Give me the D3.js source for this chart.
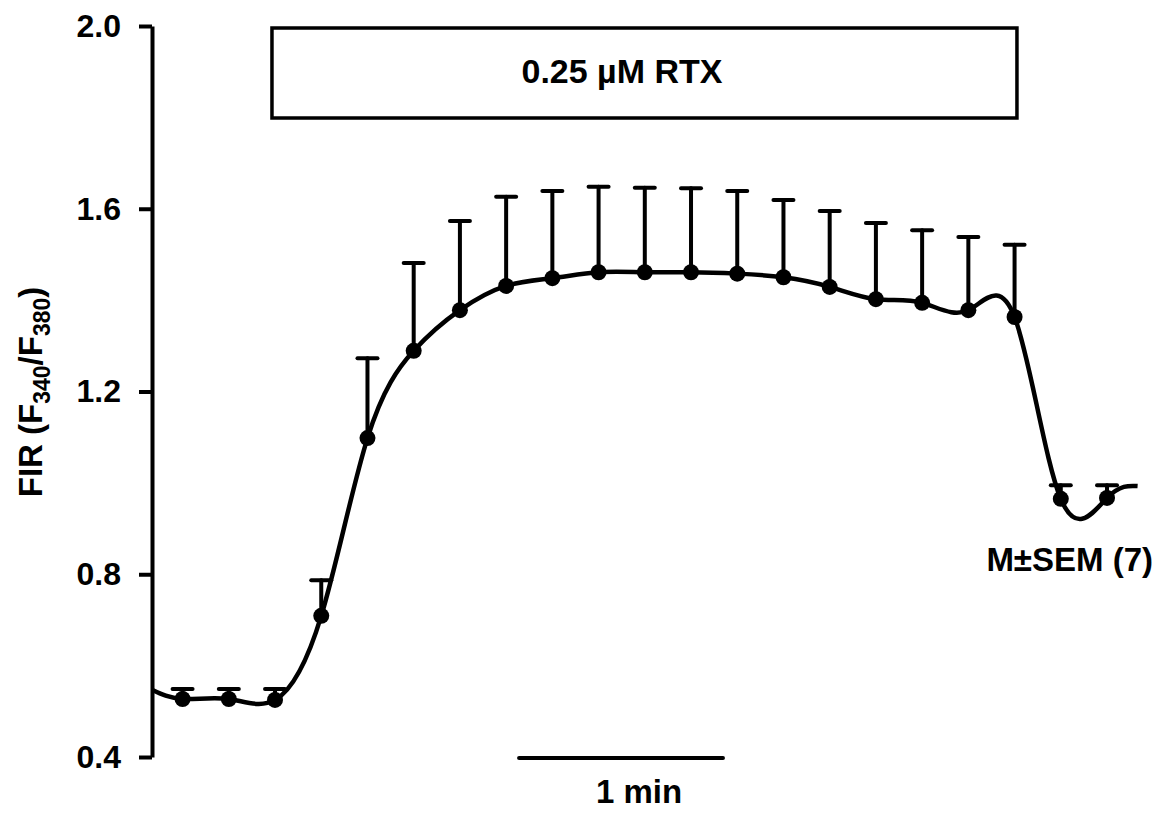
<!DOCTYPE html>
<html>
<head>
<meta charset="utf-8">
<script src="https://cdn.jsdelivr.net/npm/d3@7"></script>
<style>
  body { margin: 0; background: #fff; }
  svg text { font-family: Arial, "Liberation Sans", Helvetica, sans-serif; font-weight: bold; fill: #000; }
</style>
</head>
<body>
<script>
// sample times (s) and mean FIR with SEM
const times = [0, 13.6, 27.2, 40.8, 54.4, 68.0, 81.6, 95.2, 108.8, 122.4, 136.0,
               149.6, 163.2, 176.8, 190.4, 204.0, 217.6, 231.2, 244.8, 258.4, 272.0];
const means = [0.527, 0.527, 0.525, 0.709, 1.098, 1.289, 1.378, 1.431, 1.448, 1.461, 1.461,
               1.461, 1.458, 1.450, 1.429, 1.402, 1.394, 1.378, 1.363, 0.965, 0.967];
const sems  = [0.022, 0.022, 0.024, 0.078, 0.175, 0.192, 0.195, 0.195, 0.191, 0.187, 0.185,
               0.184, 0.181, 0.169, 0.166, 0.167, 0.159, 0.160, 0.158, 0.030, 0.028];
// ends of the fitted trace
const traceStart = [-9, 0.547];
const traceEnd = [281, 0.993];
const yTicks = [0.4, 0.8, 1.2, 1.6, 2.0];
const rtxSpan = [26.3, 245.5];
const scaleBar = [99, 159];

const width = 1157, height = 814;

const svg = d3.select("body")
    .append("svg")
    .attr("width", width)
    .attr("height", height);

const x = d3.scaleLinear().domain([-9, 282]).range([152, 1141]);
const y = d3.scaleLinear().domain([0.4, 2.0]).range([757, 26]);

// y axis
const yAxis = svg.append("g")
    .attr("transform", "translate(152,0)")
    .call(d3.axisLeft(y).tickValues(yTicks).tickFormat(d3.format(".1f"))
        .tickSize(13).tickPadding(18).tickSizeOuter(0));
yAxis.select(".domain").attr("stroke", "#000").attr("stroke-width", 4);
yAxis.selectAll(".tick line").attr("stroke", "#000").attr("stroke-width", 4);
yAxis.selectAll(".tick text")
    .attr("font-size", "32px")
    .attr("font-family", null)
    .attr("fill", "#000");

// y label
const yl = svg.append("text")
    .attr("transform", "translate(42,392) rotate(-90)")
    .attr("text-anchor", "middle")
    .attr("font-size", "33px");
yl.append("tspan").text("FIR (F");
yl.append("tspan").attr("font-size", "23px").attr("dy", 8).text("340");
yl.append("tspan").attr("dy", -8).text("/F");
yl.append("tspan").attr("font-size", "23px").attr("dy", 8).text("380");
yl.append("tspan").attr("dy", -8).text(")");

// RTX application box
svg.append("rect")
    .attr("x", x(rtxSpan[0]))
    .attr("y", 28)
    .attr("width", x(rtxSpan[1]) - x(rtxSpan[0]))
    .attr("height", 90)
    .attr("fill", "none")
    .attr("stroke", "#000")
    .attr("stroke-width", 3.5);
svg.append("text")
    .attr("x", 622)
    .attr("y", 83)
    .attr("text-anchor", "middle")
    .attr("font-size", "34px")
    .text("0.25 \u00B5M RTX");

// error bars (upper only)
const bars = svg.append("g").attr("stroke", "#000").attr("stroke-width", 4).attr("stroke-linecap", "round");
bars.selectAll(".stem")
    .data(times)
    .enter()
    .append("line")
    .attr("x1", d => x(d)).attr("x2", d => x(d))
    .attr("y1", (d, i) => y(means[i]))
    .attr("y2", (d, i) => y(means[i] + sems[i]));
bars.selectAll(".cap")
    .data(times)
    .enter()
    .append("line")
    .attr("x1", d => x(d) - 10).attr("x2", d => x(d) + 10)
    .attr("y1", (d, i) => y(means[i] + sems[i]))
    .attr("y2", (d, i) => y(means[i] + sems[i]));

// smooth trace through the means
const trace = [traceStart].concat(times.map((t, i) => [t, means[i]]), [traceEnd]);
svg.append("path")
    .datum(trace)
    .attr("fill", "none")
    .attr("stroke", "#000")
    .attr("stroke-width", 4.5)
    .attr("d", d3.line().x(d => x(d[0])).y(d => y(d[1])).curve(d3.curveNatural));

// mean points
svg.selectAll(".pt")
    .data(times)
    .enter()
    .append("circle")
    .attr("cx", d => x(d))
    .attr("cy", (d, i) => y(means[i]))
    .attr("r", 8)
    .attr("fill", "#000");

// time scale bar
svg.append("line")
    .attr("x1", x(scaleBar[0])).attr("x2", x(scaleBar[1]))
    .attr("y1", 758).attr("y2", 758)
    .attr("stroke", "#000").attr("stroke-width", 4).attr("stroke-linecap", "round");
svg.append("text")
    .attr("x", 639)
    .attr("y", 803)
    .attr("text-anchor", "middle")
    .attr("font-size", "33px")
    .text("1 min");

svg.append("text")
    .attr("x", 1153)
    .attr("y", 571)
    .attr("text-anchor", "end")
    .attr("font-size", "33px")
    .text("M\u00B1SEM (7)");
</script>
</body>
</html>
